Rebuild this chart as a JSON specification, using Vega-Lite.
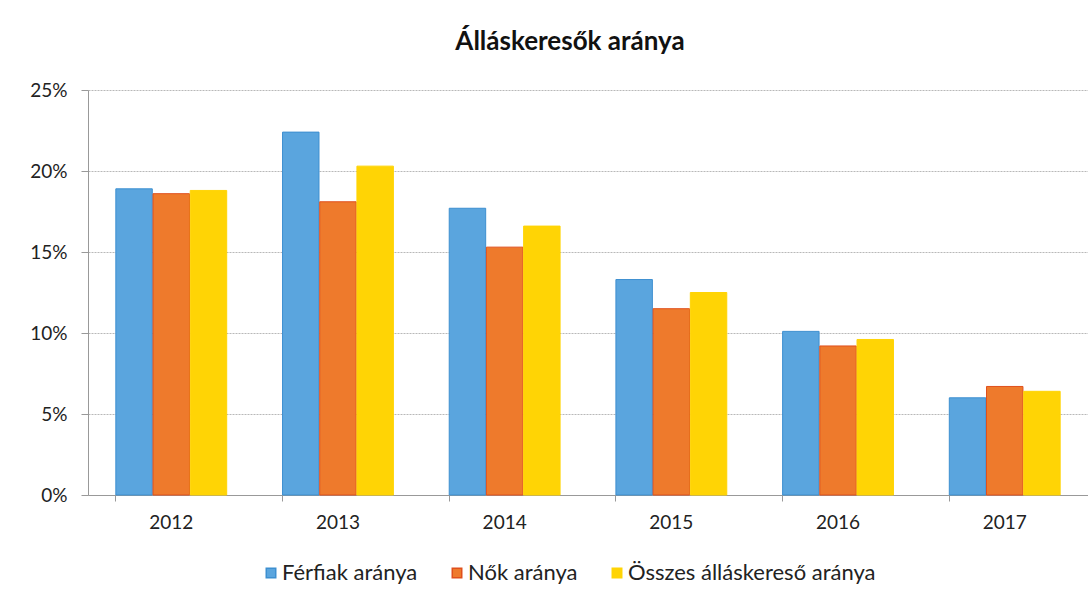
{
  "$schema": "https://vega.github.io/schema/vega-lite/v6.json",
  "autosize": "none",
  "width": 1000,
  "height": 405,
  "padding": {"left": 88, "top": 90, "right": 0, "bottom": 105},
  "background": "white",
  "title": {"text": "Álláskeresők aránya", "font": "Lato", "fontSize": 26, "fontWeight": "bold", "color": "#111", "offset": 26, "dx": -18},
  "data": {"values": [
    {"ev": "2012", "sor": "Férfiak aránya", "ertek": 0.189},
    {"ev": "2012", "sor": "Nők aránya", "ertek": 0.186},
    {"ev": "2012", "sor": "Összes álláskereső aránya", "ertek": 0.188},
    {"ev": "2013", "sor": "Férfiak aránya", "ertek": 0.224},
    {"ev": "2013", "sor": "Nők aránya", "ertek": 0.181},
    {"ev": "2013", "sor": "Összes álláskereső aránya", "ertek": 0.203},
    {"ev": "2014", "sor": "Férfiak aránya", "ertek": 0.177},
    {"ev": "2014", "sor": "Nők aránya", "ertek": 0.153},
    {"ev": "2014", "sor": "Összes álláskereső aránya", "ertek": 0.166},
    {"ev": "2015", "sor": "Férfiak aránya", "ertek": 0.133},
    {"ev": "2015", "sor": "Nők aránya", "ertek": 0.115},
    {"ev": "2015", "sor": "Összes álláskereső aránya", "ertek": 0.125},
    {"ev": "2016", "sor": "Férfiak aránya", "ertek": 0.101},
    {"ev": "2016", "sor": "Nők aránya", "ertek": 0.092},
    {"ev": "2016", "sor": "Összes álláskereső aránya", "ertek": 0.096},
    {"ev": "2017", "sor": "Férfiak aránya", "ertek": 0.060},
    {"ev": "2017", "sor": "Nők aránya", "ertek": 0.067},
    {"ev": "2017", "sor": "Összes álláskereső aránya", "ertek": 0.064}
  ]},
  "mark": {"type": "bar", "strokeWidth": 1},
  "encoding": {
    "x": {"field": "ev", "type": "nominal", "title": null,
      "scale": {"paddingInner": 0.335, "paddingOuter": 0.167},
      "axis": {"labelAngle": 0, "labelFont": "Lato", "labelFontSize": 19, "labelColor": "#222", "labelPadding": 12,
        "domainColor": "#999", "tickColor": "#999", "tickSize": 6, "bandPosition": 0, "grid": false}},
    "y": {"field": "ertek", "type": "quantitative", "title": null,
      "scale": {"domain": [0, 0.25]},
      "axis": {"values": [0, 0.05, 0.1, 0.15, 0.2, 0.25], "format": ".0%", "labelFont": "Lato", "labelFontSize": 19, "labelColor": "#222", "labelPadding": 14,
        "domain": true, "domainColor": "#999", "tickColor": "#999", "tickSize": 7, "grid": true, "gridColor": "#b8b8b8", "gridDash": [2, 1]}},
    "xOffset": {"field": "sor", "type": "nominal", "scale": {"paddingInner": 0.02}},
    "color": {"field": "sor", "type": "nominal", "title": null,
      "scale": {"domain": ["Férfiak aránya", "Nők aránya", "Összes álláskereső aránya"], "range": ["#5aa5de", "#ee7a2c", "#ffd405"]},
      "legend": {"orient": "none", "legendX": 172, "legendY": 472, "direction": "horizontal", "symbolType": "square", "symbolSize": 90,
        "labelFont": "Lato", "labelFontSize": 22, "labelColor": "#222", "columnPadding": 28, "labelOffset": 0, "labelLimit": 400}},
    "stroke": {"field": "sor", "type": "nominal", "legend": null,
      "scale": {"domain": ["Férfiak aránya", "Nők aránya", "Összes álláskereső aránya"], "range": ["#3d8fd0", "#e0501c", "#ffd405"]}}
  },
  "config": {"view": {"stroke": null}}
}
